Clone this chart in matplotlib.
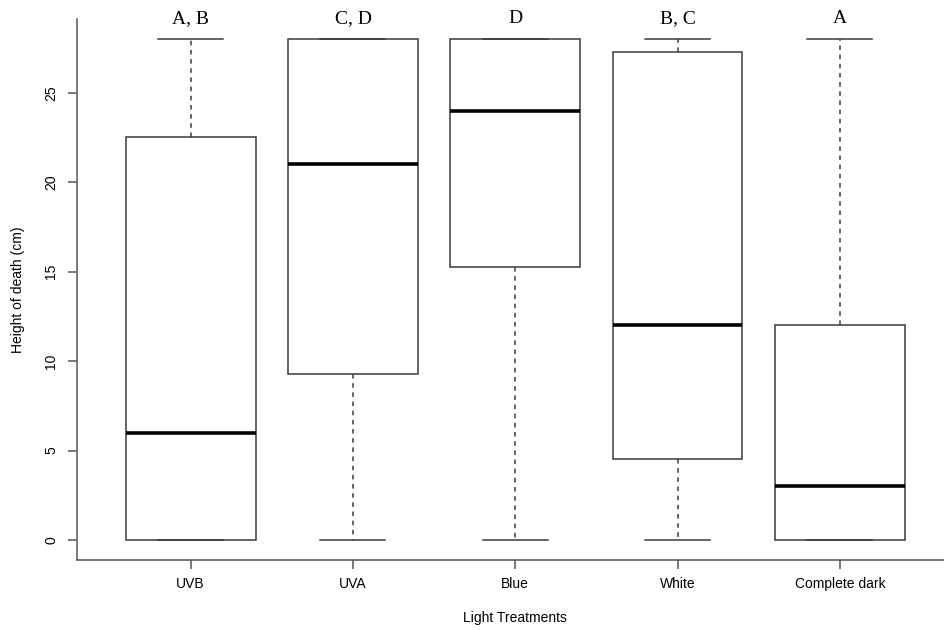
import matplotlib
matplotlib.use("Agg")
import matplotlib.pyplot as plt

# box summary (cm)
treatments = ["UVB", "UVA", "Blue", "White", "Complete dark"]
whisk_low = [0, 0, 0, 0, 0]
q1 = [0, 9.25, 15.25, 4.5, 0]
medians = [6, 21, 24, 12, 3]
q3 = [22.5, 28, 28, 27.25, 12]
whisk_high = [28, 28, 28, 28, 28]
letters = ["A, B", "C, D", "D", "B, C", "A"]

stats = []
for i in range(len(treatments)):
    stats.append({"whislo": whisk_low[i], "q1": q1[i], "med": medians[i],
                  "q3": q3[i], "whishi": whisk_high[i], "fliers": []})

fig = plt.figure(figsize=(9.45, 6.3), dpi=100)
ax = fig.add_axes([0.0815, 0.1111, 0.9275, 0.8587])

edge = "#3a3a3a"
positions = list(range(1, len(treatments) + 1))
ax.bxp(stats, positions=positions, widths=0.8, showfliers=False,
       patch_artist=True,
       boxprops=dict(facecolor="white", edgecolor=edge, linewidth=1.1),
       whiskerprops=dict(color=edge, linewidth=1.1, linestyle=(0, (3, 3))),
       capprops=dict(color=edge, linewidth=1.1),
       medianprops=dict(color="black", linewidth=2.6, solid_capstyle="butt"),
       capwidths=0.4)

ax.set_xlim(0.3, 5.7)
ax.set_ylim(-1.12, 29.12)

# significance letters above each box
for x, lab in zip(positions, letters):
    ax.text(x, 29.15, lab, ha="center", va="center", fontsize=14,
            family="Liberation Serif", clip_on=False)

ax.spines["top"].set_visible(False)
ax.spines["right"].set_visible(False)
for s in ["left", "bottom"]:
    ax.spines[s].set_color("#555555")
    ax.spines[s].set_linewidth(1.1)

ax.set_yticks([0, 5, 10, 15, 20, 25])
ax.set_xticks(positions)
ax.set_xticklabels(treatments, family="Liberation Sans", fontsize=10)
for t in ax.get_yticklabels():
    t.set_rotation(90)
    t.set_va("center")
    t.set_family("Liberation Sans")
    t.set_fontsize(10)
ax.tick_params(axis="both", length=6.5, width=1.1, color="#555555", pad=7)
ax.tick_params(axis="x", pad=6)

ax.set_xlabel("Light Treatments", family="Liberation Sans", fontsize=10, labelpad=14)
ax.set_ylabel("Height of death (cm)", family="Liberation Sans", fontsize=10, labelpad=14)

fig.savefig("out.png", dpi=100)
